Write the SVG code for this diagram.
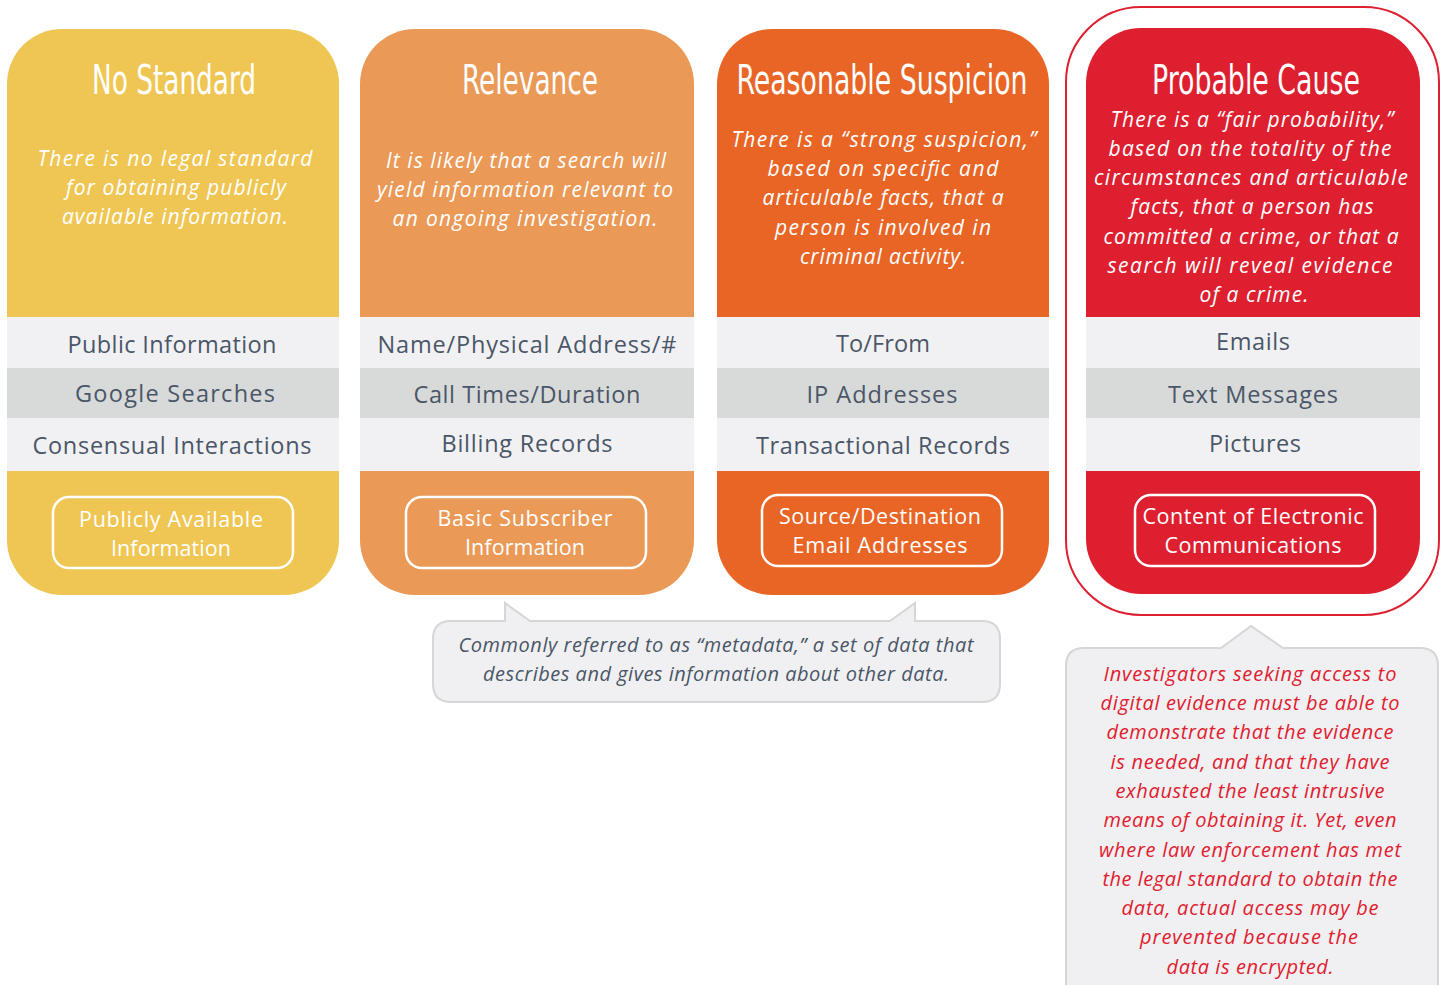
<svg xmlns="http://www.w3.org/2000/svg" width="1445" height="985" viewBox="0 0 1445 985">
<style>
.title{font-family:"DejaVu Sans Condensed","Liberation Sans Narrow","Liberation Sans",sans-serif;font-size:40px;fill:#fff;text-anchor:middle}
.desc{font-family:"Open Sans",Lato,sans-serif;font-style:italic;font-size:21px;fill:#fff;text-anchor:middle}
.band{font-family:"Open Sans",Lato,sans-serif;font-size:23.5px;fill:#4a5667;text-anchor:middle}
.pill{font-family:"Open Sans",Lato,sans-serif;font-size:21.5px;fill:#fff;text-anchor:middle}
.pillbox{fill:none;stroke:#fff;stroke-width:2.5}
.lt{fill:#f1f1f3}
.dk{fill:#d8dad9}
.note{font-family:"Open Sans",Lato,sans-serif;font-style:italic;font-size:20px;fill:#4a5667;text-anchor:middle}
.rnote{font-family:"Open Sans",Lato,sans-serif;font-style:italic;font-size:20px;fill:#e0202f;text-anchor:middle}
.callout{fill:#f0f0f2;stroke:#d6d6d6;stroke-width:2}
</style>
<rect width="1445" height="985" fill="#fff"/>

<g id="no-standard">
<rect x="7" y="29" width="332" height="566" rx="55" fill="#efc653"/>
<rect class="lt" x="7" y="317" width="332" height="51"/>
<rect class="dk" x="7" y="368" width="332" height="50"/>
<rect class="lt" x="7" y="418" width="332" height="53"/>
<text class="title" x="174" y="94" textLength="164" lengthAdjust="spacingAndGlyphs">No Standard</text>
<text class="desc" x="175" y="166" textLength="275">There is no legal standard</text>
<text class="desc" x="176" y="195" textLength="220">for obtaining publicly</text>
<text class="desc" x="175" y="224" textLength="226">available information.</text>
<text class="band" x="172" y="353" textLength="209">Public Information</text>
<text class="band" x="175" y="402" textLength="200">Google Searches</text>
<text class="band" x="172" y="454" textLength="279">Consensual Interactions</text>
<rect class="pillbox" x="53" y="497" width="240" height="71" rx="16"/>
<text class="pill" x="171" y="527" textLength="184">Publicly Available</text>
<text class="pill" x="171" y="556" textLength="120">Information</text>
</g>

<g id="relevance">
<rect x="360" y="29" width="334" height="566" rx="55" fill="#ea9957"/>
<rect class="lt" x="360" y="317" width="334" height="51"/>
<rect class="dk" x="360" y="368" width="334" height="50"/>
<rect class="lt" x="360" y="418" width="334" height="53"/>
<text class="title" x="530" y="94" textLength="136" lengthAdjust="spacingAndGlyphs">Relevance</text>
<text class="desc" x="526" y="168" textLength="280">It is likely that a search will</text>
<text class="desc" x="525" y="197" textLength="296">yield information relevant to</text>
<text class="desc" x="525" y="226" textLength="265">an ongoing investigation.</text>
<text class="band" x="527" y="353" textLength="299">Name/Physical Address/#</text>
<text class="band" x="527" y="403" textLength="227">Call Times/Duration</text>
<text class="band" x="527" y="452" textLength="171">Billing Records</text>
<rect class="pillbox" x="406" y="497" width="240" height="71" rx="16"/>
<text class="pill" x="525" y="526" textLength="175">Basic Subscriber</text>
<text class="pill" x="525" y="555" textLength="120">Information</text>
</g>

<g id="reasonable-suspicion">
<rect x="717" y="29" width="332" height="566" rx="55" fill="#e96526"/>
<rect class="lt" x="717" y="317" width="332" height="51"/>
<rect class="dk" x="717" y="368" width="332" height="50"/>
<rect class="lt" x="717" y="418" width="332" height="53"/>
<text class="title" x="882" y="94" textLength="291" lengthAdjust="spacingAndGlyphs">Reasonable Suspicion</text>
<text class="desc" x="884" y="147" textLength="305">There is a “strong suspicion,”</text>
<text class="desc" x="883" y="176" textLength="231">based on specific and</text>
<text class="desc" x="883" y="205" textLength="241">articulable facts, that a</text>
<text class="desc" x="883" y="235" textLength="216">person is involved in</text>
<text class="desc" x="883" y="264" textLength="166">criminal activity.</text>
<text class="band" x="883" y="352" textLength="94">To/From</text>
<text class="band" x="882" y="403" textLength="151">IP Addresses</text>
<text class="band" x="883" y="454" textLength="254">Transactional Records</text>
<rect class="pillbox" x="762" y="495" width="240" height="71" rx="16"/>
<text class="pill" x="880" y="524" textLength="202">Source/Destination</text>
<text class="pill" x="880" y="553" textLength="175">Email Addresses</text>
</g>

<g id="probable-cause">
<rect x="1066" y="7" width="373" height="608" rx="75" fill="none" stroke="#de1f2f" stroke-width="2"/>
<rect x="1086" y="28" width="334" height="566" rx="55" fill="#de1f2f"/>
<rect class="lt" x="1086" y="317" width="334" height="51"/>
<rect class="dk" x="1086" y="368" width="334" height="50"/>
<rect class="lt" x="1086" y="418" width="334" height="53"/>
<text class="title" x="1256" y="94" textLength="208" lengthAdjust="spacingAndGlyphs">Probable Cause</text>
<text class="desc" x="1252" y="127" textLength="283">There is a “fair probability,”</text>
<text class="desc" x="1250" y="156" textLength="283">based on the totality of the</text>
<text class="desc" x="1251" y="185" textLength="314">circumstances and articulable</text>
<text class="desc" x="1252" y="214" textLength="243">facts, that a person has</text>
<text class="desc" x="1251" y="244" textLength="295">committed a crime, or that a</text>
<text class="desc" x="1250" y="273" textLength="285">search will reveal evidence</text>
<text class="desc" x="1254" y="302" textLength="109">of a crime.</text>
<text class="band" x="1253" y="350" textLength="74">Emails</text>
<text class="band" x="1253" y="403" textLength="170">Text Messages</text>
<text class="band" x="1255" y="452" textLength="92">Pictures</text>
<rect class="pillbox" x="1135" y="495" width="240" height="71" rx="16"/>
<text class="pill" x="1253" y="524" textLength="221">Content of Electronic</text>
<text class="pill" x="1253" y="553" textLength="177">Communications</text>
</g>

<g id="metadata-note">
<path class="callout" d="M451,621 H505 V603 L530,621 H890 L915,603 V621 H982 Q1000,621 1000,639 V684 Q1000,702 982,702 H451 Q433,702 433,684 V639 Q433,621 451,621 Z"/>
<text class="note" x="716" y="652" textLength="515">Commonly referred to as “metadata,” a set of data that</text>
<text class="note" x="716" y="681" textLength="466">describes and gives information about other data.</text>
</g>

<g id="encryption-note">
<path class="callout" d="M1084,648 H1221 L1251,626 L1283,648 H1420 Q1438,648 1438,666 V1000 H1066 V666 Q1066,648 1084,648 Z"/>
<text class="rnote" x="1250" y="681" textLength="293">Investigators seeking access to</text>
<text class="rnote" x="1250" y="710" textLength="299">digital evidence must be able to</text>
<text class="rnote" x="1250" y="739" textLength="287">demonstrate that the evidence</text>
<text class="rnote" x="1250" y="769" textLength="279">is needed, and that they have</text>
<text class="rnote" x="1250" y="798" textLength="269">exhausted the least intrusive</text>
<text class="rnote" x="1250" y="827" textLength="293">means of obtaining it. Yet, even</text>
<text class="rnote" x="1250" y="857" textLength="302">where law enforcement has met</text>
<text class="rnote" x="1250" y="886" textLength="295">the legal standard to obtain the</text>
<text class="rnote" x="1250" y="915" textLength="257">data, actual access may be</text>
<text class="rnote" x="1249" y="944" textLength="218">prevented because the</text>
<text class="rnote" x="1250" y="974" textLength="167">data is encrypted.</text>
</g>

<g id="connectors"></g>
</svg>
